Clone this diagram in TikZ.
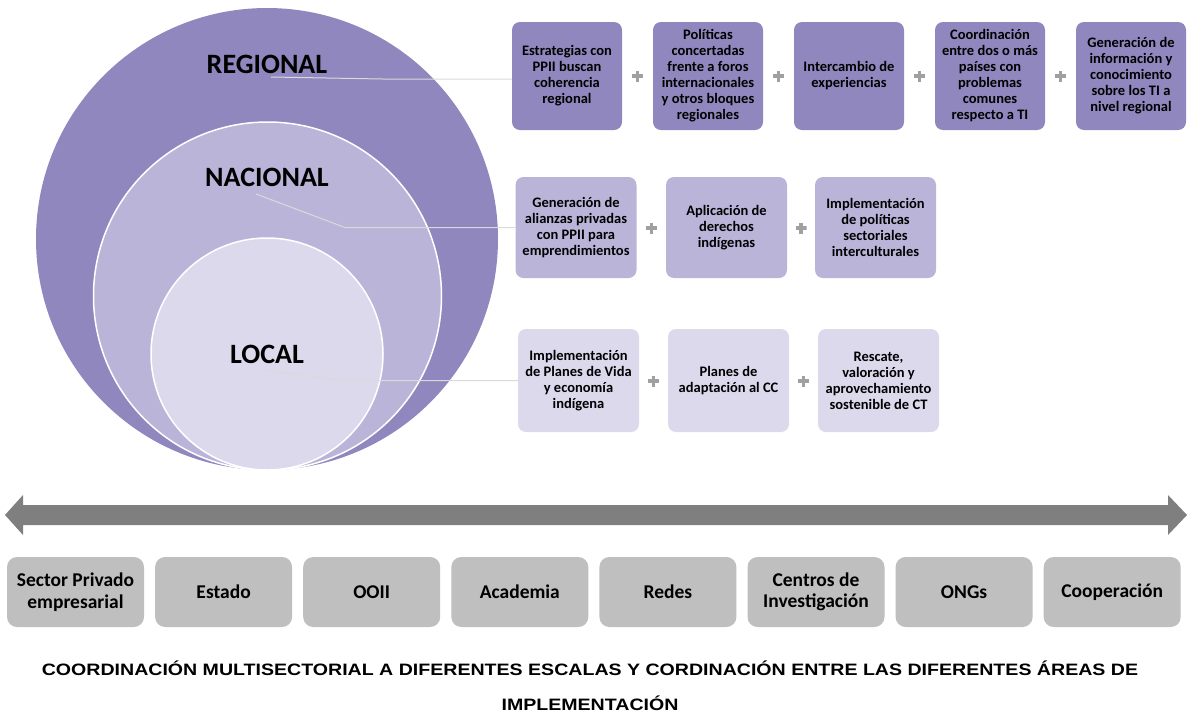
\documentclass[tikz,border=0pt]{standalone}
\usepackage{fontspec}
\setmainfont{Carlito}
\newfontfamily\arialf{Liberation Sans}
\definecolor{cReg}{HTML}{8F87BD}
\definecolor{cNac}{HTML}{BBB4D9}
\definecolor{cLoc}{HTML}{DCD9ED}
\definecolor{cGray}{HTML}{BFBFBF}
\definecolor{cArrow}{HTML}{7F7F7F}
\definecolor{cPlus}{HTML}{A0A0A0}
\definecolor{cLead}{HTML}{DADADA}
\tikzset{
  lvl/.style={circle, inner sep=0pt},
  lvllabel/.style={font=\bfseries\fontsize{28}{30}\selectfont, inner sep=0pt},
  itembox/.style={rectangle, rounded corners=8pt, align=center, inner sep=2pt,
    font=\bfseries\fontsize{14.5}{16}\selectfont},
  regbox/.style={itembox, fill=cReg, minimum width=110pt, minimum height=108pt},
  nacbox/.style={itembox, fill=cNac, minimum width=121pt, minimum height=101pt},
  locbox/.style={itembox, fill=cLoc, minimum width=121pt, minimum height=103pt},
  plussign/.style={rectangle, inner sep=0pt, minimum size=11pt,
    path picture={
      \fill[cPlus] ([xshift=-1.7pt]path picture bounding box.north) rectangle ([xshift=1.7pt]path picture bounding box.south);
      \fill[cPlus] ([yshift=-1.7pt]path picture bounding box.west) rectangle ([yshift=1.7pt]path picture bounding box.east);
    }},
  actor/.style={rectangle, rounded corners=10pt, fill=cGray, minimum width=137pt, minimum height=70pt,
    align=center, inner sep=2pt, font=\bfseries\fontsize{19.5}{21.5}\selectfont},
  leader/.style={draw=cLead, line width=1pt},
}
\begin{document}
\begin{tikzpicture}[x=1pt,y=-1pt]
\useasboundingbox (0,0) rectangle (1192,716);

% circles
\node[lvl, fill=cReg, minimum size=462pt] (outer) at (267,239) {};
\node[lvl, fill=cNac, draw=white, line width=1.5pt, minimum size=348pt] (middle) at (267.5,296) {};
\node[lvl, fill=cLoc, draw=white, line width=1.5pt, minimum size=232pt] (inner) at (267,354) {};

\node[lvllabel] (lreg) at (267,64) {REGIONAL};
\node[lvllabel] (lnac) at (267,177) {NACIONAL};
\node[lvllabel] (lloc) at (267,354) {LOCAL};

% top row
\node[regbox] (t1) at (567,76) {Estrategias con\\PPII buscan\\coherencia\\regional};
\node[regbox] (t2) at (708,76) {Políticas\\concertadas\\frente a foros\\internacionales\\y otros bloques\\regionales};
\node[regbox] (t3) at (849,76) {Intercambio de\\experiencias};
\node[regbox] (t4) at (990,76) {Coordinación\\entre dos o más\\países con\\problemas\\comunes\\respecto a TI};
\node[regbox] (t5) at (1131,76) {Generación de\\información y\\conocimiento\\sobre los TI a\\nivel regional};
\node[plussign] (tp1) at (637.5,76) {};
\node[plussign] (tp2) at (778.5,76) {};
\node[plussign] (tp3) at (919.5,76) {};
\node[plussign] (tp4) at (1060.5,76) {};

% middle row
\node[nacbox] (m1) at (576,227.5) {Generación de\\alianzas privadas\\con PPII para\\emprendimientos};
\node[nacbox] (m2) at (726.5,227.5) {Aplicación de\\derechos\\indígenas};
\node[nacbox] (m3) at (875.5,227.5) {Implementación\\de políticas\\sectoriales\\interculturales};
\node[plussign] (mp1) at (651.5,228) {};
\node[plussign] (mp2) at (801,228) {};

% bottom row
\node[locbox] (b1) at (578.5,380.5) {Implementación\\de Planes de Vida\\y economía\\indígena};
\node[locbox] (b2) at (728.5,380.5) {Planes de\\adaptación al CC};
\node[locbox] (b3) at (878.5,380.5) {Rescate,\\valoración y\\aprovechamiento\\sostenible de CT};
\node[plussign] (bp1) at (653.5,381) {};
\node[plussign] (bp2) at (803.5,381) {};

% leader lines
\coordinate (rs) at (271,77);
\coordinate (rb) at (383,79);
\draw[leader] (rs) -- (rb) -- (rb -| t1.west);
\coordinate (ns) at (256,194);
\coordinate (nb) at (345,227.5);
\draw[leader] (ns) -- (nb) -- (m1.west);
\coordinate (ls) at (263,370);
\coordinate (lb) at (343,380.5);
\draw[leader] (ls) -- (lb) -- (b1.west);

% double arrow
\fill[cArrow] (5,515) -- (23,495) -- (23,505) -- (1168,505) -- (1168,495) -- (1187,515)
  -- (1168,535) -- (1168,525) -- (23,525) -- (23,535) -- cycle;

% actors
\node[actor] (a1) at (75.5,592) {Sector Privado\\empresarial};
\node[actor] (a2) at (223.6,592) {Estado};
\node[actor] (a3) at (371.7,592) {OOII};
\node[actor] (a4) at (519.8,592) {Academia};
\node[actor] (a5) at (667.9,592) {Redes};
\node[actor] (a6) at (816,592) {Centros de\\Investigación};
\node[actor] (a7) at (964.1,592) {ONGs};
\node[actor] (a8) at (1112.2,592) {Cooperación};

% title
\node[font=\arialf\bfseries\fontsize{16.5}{35}\selectfont, align=center, inner sep=0pt,
  xscale=1.186, transform shape] (title) at (590,686)
  {COORDINACIÓN MULTISECTORIAL A DIFERENTES ESCALAS Y CORDINACIÓN ENTRE LAS DIFERENTES ÁREAS DE\\IMPLEMENTACIÓN};
\end{tikzpicture}
\end{document}
